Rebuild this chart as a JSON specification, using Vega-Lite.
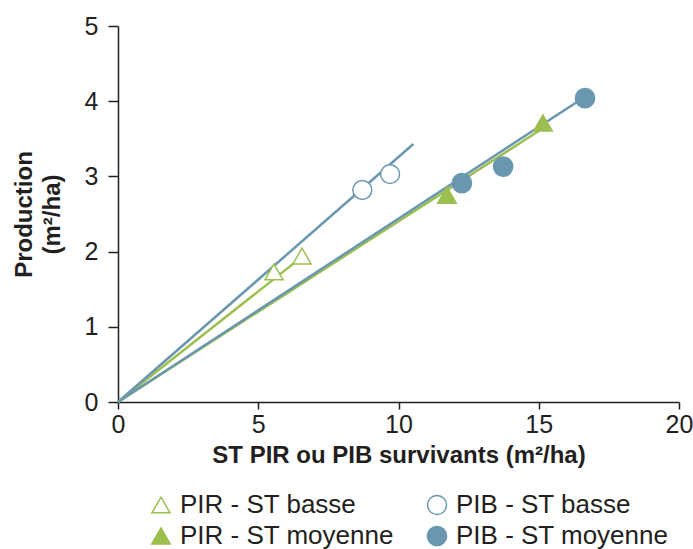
{
  "$schema": "https://vega.github.io/schema/vega-lite/v6.json",
  "width": 561,
  "height": 376,
  "autosize": "none",
  "padding": {"left": 118, "top": 26, "right": 14, "bottom": 147},
  "background": "white",
  "config": {
    "font": "Liberation Sans",
    "view": {"stroke": null},
    "axis": {
      "grid": false,
      "domainColor": "#231f20",
      "domainWidth": 1.5,
      "tickColor": "#231f20",
      "tickWidth": 1.5,
      "labelColor": "#231f20",
      "titleColor": "#231f20",
      "labelFontSize": 25,
      "titleFontSize": 24,
      "titleFontWeight": "bold",
      "labelFlush": false,
      "labelOverlap": false
    },
    "legend": {
      "orient": "none",
      "legendX": 30,
      "legendY": 466,
      "columns": 2,
      "labelFontSize": 26,
      "labelColor": "#231f20",
      "labelOffset": 6,
      "labelLimit": 400,
      "columnPadding": 30,
      "rowPadding": 5,
      "symbolStrokeWidth": 1.5,
      "titleFontSize": 0
    }
  },
  "datasets": {
    "points": [
      {"series": "PIR - ST basse", "st": 5.56, "prod": 1.73},
      {"series": "PIR - ST basse", "st": 6.56, "prod": 1.94},
      {"series": "PIB - ST basse", "st": 8.71, "prod": 2.82},
      {"series": "PIB - ST basse", "st": 9.70, "prod": 3.03},
      {"series": "PIR - ST moyenne", "st": 11.73, "prod": 2.75},
      {"series": "PIR - ST moyenne", "st": 15.15, "prod": 3.71},
      {"series": "PIB - ST moyenne", "st": 12.26, "prod": 2.91},
      {"series": "PIB - ST moyenne", "st": 13.73, "prod": 3.13},
      {"series": "PIB - ST moyenne", "st": 16.65, "prod": 4.04}
    ],
    "lines": [
      {"series": "PIR - ST basse", "st": 0, "prod": 0},
      {"series": "PIR - ST basse", "st": 6.56, "prod": 1.93},
      {"series": "PIB - ST basse", "st": 0, "prod": 0},
      {"series": "PIB - ST basse", "st": 10.53, "prod": 3.43},
      {"series": "PIR - ST moyenne", "st": 0, "prod": 0},
      {"series": "PIR - ST moyenne", "st": 15.15, "prod": 3.64},
      {"series": "PIB - ST moyenne", "st": 0, "prod": 0},
      {"series": "PIB - ST moyenne", "st": 16.65, "prod": 4.06}
    ]
  },
  "layer": [
    {
      "data": {"name": "lines"},
      "mark": {"type": "line", "strokeWidth": 2.5, "clip": false},
      "encoding": {
        "x": {"field": "st", "type": "quantitative"},
        "y": {"field": "prod", "type": "quantitative"},
        "color": {
          "field": "series",
          "type": "nominal",
          "scale": {
            "domain": ["PIR - ST moyenne", "PIB - ST moyenne", "PIR - ST basse", "PIB - ST basse"],
            "range": ["#9cbf4f", "#6a97b0", "#9cbf4f", "#6a97b0"]
          },
          "legend": null
        },
        "order": {"field": "st"}
      }
    },
    {
      "data": {"name": "points"},
      "mark": {"type": "point", "filled": true, "opacity": 1, "strokeWidth": 1.5},
      "encoding": {
        "x": {
          "field": "st",
          "type": "quantitative",
          "scale": {"domain": [0, 20], "nice": false},
          "axis": {"values": [0, 5, 10, 15, 20], "format": "d", "tickSize": 7, "labelPadding": 3, "titlePadding": 6},
          "title": "ST PIR ou PIB survivants (m²/ha)"
        },
        "y": {
          "field": "prod",
          "type": "quantitative",
          "scale": {"domain": [0, 5], "nice": false},
          "axis": {"values": [0, 1, 2, 3, 4, 5], "format": "d", "tickSize": 10, "labelPadding": 10, "titlePadding": 20, "titleLineHeight": 28},
          "title": ["Production", "(m²/ha)"]
        },
        "shape": {
          "field": "series",
          "type": "ordinal",
          "scale": {
            "domain": ["PIR - ST basse", "PIR - ST moyenne", "PIB - ST basse", "PIB - ST moyenne"],
            "range": ["triangle-up", "triangle-up", "circle", "circle"]
          },
          "legend": {"title": null}
        },
        "stroke": {
          "field": "series",
          "type": "ordinal",
          "scale": {
            "domain": ["PIR - ST basse", "PIR - ST moyenne", "PIB - ST basse", "PIB - ST moyenne"],
            "range": ["#9cbf4f", "#9cbf4f", "#6a97b0", "#6a97b0"]
          },
          "legend": {"title": null}
        },
        "fill": {
          "field": "series",
          "type": "ordinal",
          "scale": {
            "domain": ["PIR - ST basse", "PIR - ST moyenne", "PIB - ST basse", "PIB - ST moyenne"],
            "range": ["#ffffff", "#9cbf4f", "#ffffff", "#6a97b0"]
          },
          "legend": {"title": null}
        },
        "size": {
          "field": "series",
          "type": "ordinal",
          "scale": {
            "domain": ["PIR - ST basse", "PIR - ST moyenne", "PIB - ST basse", "PIB - ST moyenne"],
            "range": [330, 370, 200, 272]
          },
          "legend": {"title": null}
        }
      }
    }
  ],
  "resolve": {"scale": {"color": "independent"}}
}
